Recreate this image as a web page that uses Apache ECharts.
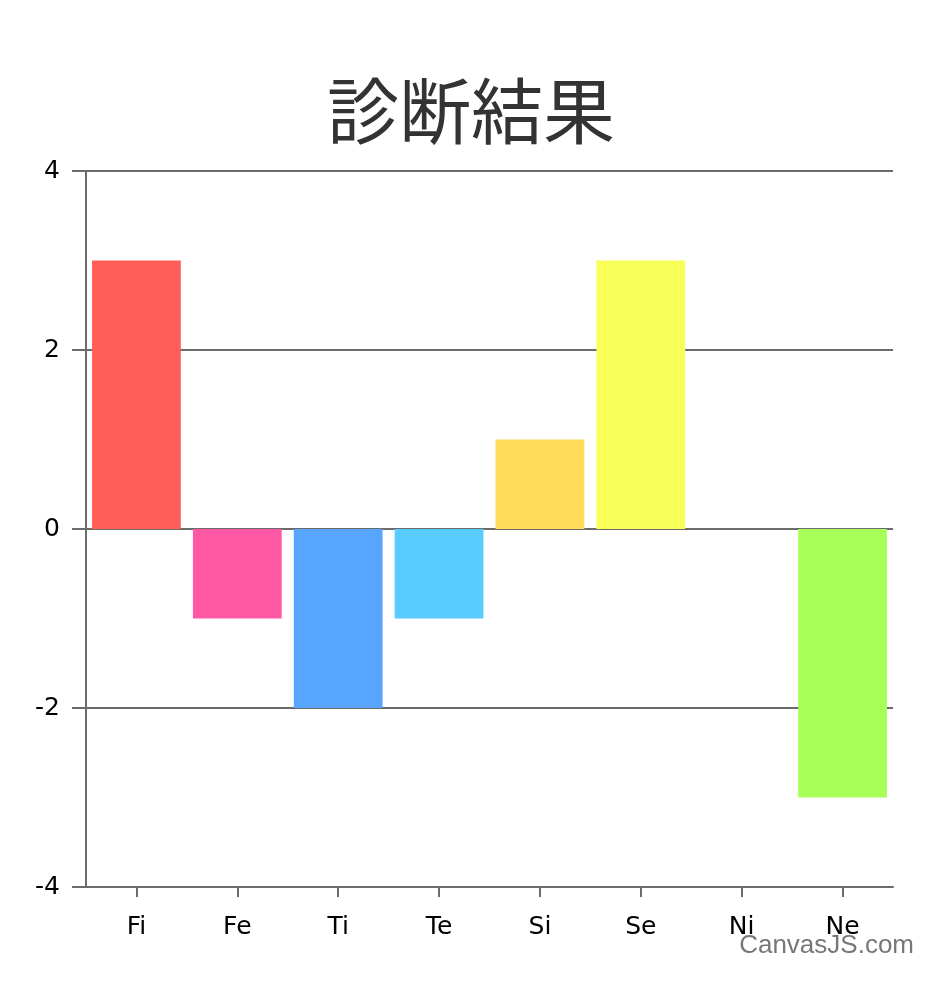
<!DOCTYPE html>
<html><head><meta charset="utf-8">
<script src="https://cdn.jsdelivr.net/npm/echarts@6/dist/echarts.min.js"></script>
<style>html,body{margin:0;padding:0;background:#fff}#c{width:942px;height:999px}</style>
</head><body><div id="c"></div>
<script>
const categories = ['Fi','Fe','Ti','Te','Si','Se','Ni','Ne'];
const values = [3, -1, -2, -1, 1, 3, 0, -3];
const colors = ['#FF5F58','#FF58A5','#58A5FF','#58CCFF','#FFDB58','#F7FF58','#D1FF58','#A8FF58'];
const yTicks = { min: -4, max: 4, interval: 2 };

const chart = echarts.init(document.getElementById('c'));
chart.setOption({
  animation: false,
  title: {
    text: '診断結果', left: 'center', top: 70,
    textStyle: { fontSize: 72, fontWeight: 'normal', color: '#333', fontFamily: 'Noto Sans CJK JP' }
  },
  grid: { left: 86, right: 49, top: 171, bottom: 112 },
  xAxis: {
    type: 'category', data: categories,
    axisLine: { show: true, onZero: false, lineStyle: { color: '#6b6b6b', width: 2 } },
    axisTick: { show: true, alignWithLabel: true, length: 10, lineStyle: { color: '#6b6b6b', width: 2 } },
    axisLabel: { margin: 28, fontSize: 25, color: '#000', fontFamily: 'DejaVu Sans' }
  },
  yAxis: {
    type: 'value', min: yTicks.min, max: yTicks.max, interval: yTicks.interval,
    axisLine: { show: true, lineStyle: { color: '#6b6b6b', width: 2 } },
    axisTick: { show: true, length: 14, lineStyle: { color: '#6b6b6b', width: 2 } },
    splitLine: { show: true, lineStyle: { color: '#6b6b6b', width: 2 } },
    axisLabel: { margin: 26, fontSize: 25, color: '#000', fontFamily: 'DejaVu Sans' }
  },
  series: [{
    type: 'bar', barCategoryGap: '12%',
    data: values.map((v, i) => ({ value: v, itemStyle: { color: colors[i] } }))
  }],
  graphic: [{
    type: 'text', right: 28, top: 933,
    style: { text: 'CanvasJS.com', fontSize: 26, fill: '#777', fontFamily: 'Liberation Sans' }
  }]
});
</script></body></html>
